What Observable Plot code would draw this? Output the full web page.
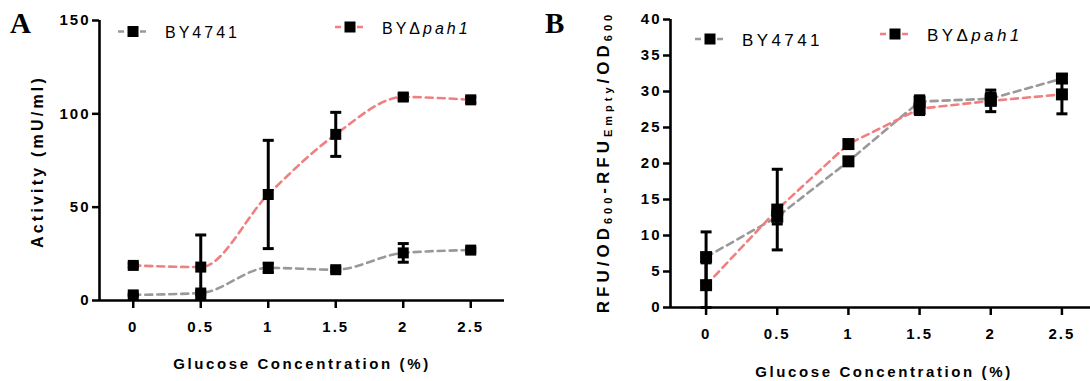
<!DOCTYPE html>
<html><head><meta charset="utf-8">
<script src="https://cdn.jsdelivr.net/npm/d3@7"></script>
<script src="https://cdn.jsdelivr.net/npm/@observablehq/plot@0.6"></script>
<style>
html,body{margin:0;padding:0;background:#fff;overflow:hidden}
#fig{position:relative;width:1090px;height:381px;overflow:hidden;background:#fff}
#fig .panel{position:absolute;top:0}
#overlay{position:absolute;left:0;top:0;pointer-events:none}
</style></head><body><div id="fig"></div>
<script>
const glucose = [0, 0.5, 1, 1.5, 2, 2.5];
const strains = ["BY4741", "BYΔpah1"];
const strainColors = ["#999999", "#f08080"];
const activityBY4741 = [3, 4, 17.5, 16.5, 25.5, 27];
const activityBY4741Err = [0.5, 1, 2.5, 1, 5, 1];
const activityPah1 = [18.8, 17.9, 56.8, 89, 109, 107.5];
const activityPah1Err = [1, 17.2, 29, 11.8, 1.5, 1.5];
const rfuBY4741 = [7, 12.6, 20.3, 28.6, 29.0, 31.8];
const rfuBY4741Err = [3.5, 1, 0.5, 0.8, 0.8, 0.5];
const rfuPah1 = [3.1, 13.6, 22.7, 27.6, 28.7, 29.6];
const rfuPah1Err = [3.1, 5.6, 0.5, 0.8, 1.5, 2.7];
const activityTicks = [0, 50, 100, 150];
const rfuTicks = [0, 5, 10, 15, 20, 25, 30, 35, 40];
const xTitle = "Glucose Concentration (%)";
const activityTitle = "Activity (mU/ml)";

function rows(vals, errs, strain) {
  return glucose.map((g, i) => ({glucose: g, value: vals[i], err: errs[i], strain}));
}
const squareSym = {draw(ctx, size) { const r = Math.sqrt(size / Math.PI); ctx.rect(-r, -r, 2 * r, 2 * r); }};
const capSym = {draw(ctx, size) { const r = Math.sqrt(size / Math.PI); ctx.moveTo(-r, 0); ctx.lineTo(r, 0); }};

function panel({series, yDomain, yTicks, width, margins, xDomain, curve, r}) {
  const all = series.flat();
  return Plot.plot({
    width, height: 381, ...margins,
    x: {domain: xDomain},
    y: {domain: yDomain},
    style: {fontFamily: "'Liberation Sans', Arial, sans-serif", fontSize: "15px", fontWeight: "bold", letterSpacing: "2px", color: "#000", background: "transparent", overflow: "visible"},
    marks: [
      ...series.map((s, i) => Plot.line(s, {x: "glucose", y: "value", stroke: strainColors[i], strokeWidth: 2.6, strokeDasharray: "7,5", curve})),
      Plot.ruleX(all, {x: "glucose", y1: d => d.value - d.err, y2: d => d.value + d.err, stroke: "#000", strokeWidth: 3}),
      Plot.dot(all, {x: "glucose", y: d => d.value + d.err, symbol: capSym, r: 5.5, stroke: "#000", strokeWidth: 3, fill: "none"}),
      Plot.dot(all, {x: "glucose", y: d => d.value - d.err, symbol: capSym, r: 5.5, stroke: "#000", strokeWidth: 3, fill: "none"}),
      Plot.dot(all, {x: "glucose", y: "value", symbol: squareSym, r, fill: "#000", stroke: "none"}),
      Plot.ruleY([yDomain[0]], {stroke: "#000", strokeWidth: 2.6}),
      Plot.ruleX([xDomain[0]], {stroke: "#000", strokeWidth: 2.6}),
      Plot.axisX({ticks: glucose, tickFormat: d => String(d), tickSize: 8, tickPadding: 13, stroke: "#000", strokeWidth: 2.5, label: null}),
      Plot.axisY({ticks: yTicks, tickSize: 7, tickPadding: 2, stroke: "#000", strokeWidth: 2.5, label: null})
    ]
  });
}

const fig = document.getElementById("fig");
const pA = panel({
  series: [rows(activityBY4741, activityBY4741Err, strains[0]), rows(activityPah1, activityPah1Err, strains[1])],
  yDomain: [0, 150], yTicks: activityTicks, width: 545,
  margins: {marginLeft: 99, marginRight: 41, marginTop: 20, marginBottom: 81},
  xDomain: [-0.25, 2.75], curve: "monotone-x", r: 5.5
});
pA.classList.add("panel"); pA.style.left = "0px";
fig.appendChild(pA);

const pB = panel({
  series: [rows(rfuBY4741, rfuBY4741Err, strains[0]), rows(rfuPah1, rfuPah1Err, strains[1])],
  yDomain: [0, 40], yTicks: rfuTicks, width: 552,
  margins: {marginLeft: 125, marginRight: 0, marginTop: 19, marginBottom: 74},
  xDomain: [-0.25, 2.75], curve: "linear", r: 6
});
pB.classList.add("panel"); pB.style.left = "545px";
fig.appendChild(pB);

function legendItem(cx, cy, i, tx, fs, ls) {
  const name = strains[i];
  const label = name.includes("Δ")
    ? `BYΔ<tspan font-style="italic">${name.split("Δ")[1]}</tspan>`
    : name;
  return `<line x1="${cx - 15}" x2="${cx + 16}" y1="${cy}" y2="${cy}" stroke="${strainColors[i]}" stroke-width="2.6" stroke-dasharray="6,5"/>
  <rect x="${cx - 5.5}" y="${cy - 5.5}" width="11" height="11" fill="#000"/>
  <text x="${tx}" y="${cy + 0.36 * fs + 1}" font-size="${fs}" letter-spacing="${ls}">${label}</text>`;
}

const overlay = `<svg id="overlay" width="1090" height="381" font-family="'Liberation Sans', Arial, sans-serif">
  <text x="10" y="33" font-family="'Liberation Serif', 'Times New Roman', serif" font-weight="bold" font-size="29">A</text>
  <text x="545" y="33" font-family="'Liberation Serif', 'Times New Roman', serif" font-weight="bold" font-size="29">B</text>
  ${legendItem(133, 31.5, 0, 165, 16, 3)}
  ${legendItem(350, 27, 1, 382, 16, 3)}
  ${legendItem(710, 39, 0, 742, 17, 3.4)}
  ${legendItem(895, 34, 1, 927, 17, 3.4)}
  <text x="302" y="368.7" text-anchor="middle" font-size="15" font-weight="bold" letter-spacing="2.6">${xTitle}</text>
  <text x="884" y="377" text-anchor="middle" font-size="15" font-weight="bold" letter-spacing="2.6">${xTitle}</text>
  <text transform="translate(37.3,161.5) rotate(-90)" text-anchor="middle" dy="0.36em" font-size="16" font-weight="bold" letter-spacing="3.2">${activityTitle}</text>
  <text transform="translate(603,162) rotate(-90)" text-anchor="middle" dy="0.36em" font-size="17" font-weight="bold" letter-spacing="4">RFU/OD<tspan font-size="11" dy="3">600</tspan><tspan dy="-3">-RFU</tspan><tspan font-size="11" dy="3">Empty</tspan><tspan dy="-3">/OD</tspan><tspan font-size="11" dy="3">600</tspan></text>
</svg>`;
fig.insertAdjacentHTML("beforeend", overlay);
</script></body></html>
